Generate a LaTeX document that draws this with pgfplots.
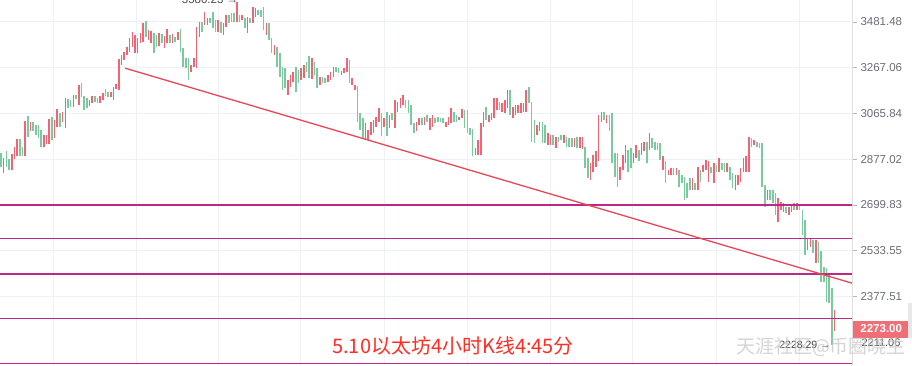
\documentclass[border=0pt]{standalone}
\usepackage{fontspec}
\setmainfont{Liberation Sans}
\newfontfamily\cjk{Noto Sans CJK SC}
\usepackage{pgfplots}
\usepackage{pgfplotstable}
\pgfplotsset{compat=1.18}
\definecolor{upc}{RGB}{238,102,115}
\definecolor{dnc}{RGB}{124,201,160}
\definecolor{trendc}{RGB}{232,72,85}
\definecolor{hlc}{RGB}{190,40,130}
\definecolor{gridc}{RGB}{238,241,248}
\definecolor{lblc}{RGB}{106,109,120}
\definecolor{boxred}{RGB}{240,110,118}
\definecolor{txtred}{RGB}{255,45,35}
\pgfplotstableread{
x lo hi
2 2822 2881
5 2835 2897
6 2877 2925
7 2888 2959
10 2888 3034
12 2990 3030
17 2925 2976
18 2939 2976
19 2939 3041
21 2962 3038
22 3010 3084
24 3031 3070
25 3003 3131
28 3095 3146
30 3102 3188
34 3098 3124
35 3110 3139
38 3112 3141
39 3124 3156
42 3136 3160
43 3124 3182
44 3171 3193
45 3168 3306
46 3280 3325
47 3302 3341
48 3325 3364
49 3341 3404
50 3364 3435
51 3333 3419
52 3333 3404
53 3380 3427
54 3388 3475
56 3396 3443
57 3380 3440
60 3367 3427
62 3357 3414
63 3380 3449
65 3383 3422
67 3396 3433
72 3249 3280
73 3272 3310
74 3265 3459
75 3411 3483
77 3467 3532
78 3467 3499
82 3435 3491
84 3419 3475
85 3459 3515
89 3483 3581
91 3491 3515
93 3427 3507
95 3475 3556
96 3507 3548
100 3419 3475
103 3325 3372
108 3146 3212
109 3182 3234
110 3205 3249
113 3212 3265
114 3220 3280
117 3215 3310
120 3190 3227
123 3205 3234
124 3212 3249
125 3227 3272
128 3234 3254
129 3242 3265
130 3249 3310
132 3190 3220
133 3168 3190
137 2955 3024
138 2955 2996
139 2976 3031
140 2983 3038
141 3010 3052
142 3031 3088
144 3010 3045
146 3003 3060
148 3003 3124
149 3074 3117
150 3088 3131
151 3102 3146
156 2990 3031
157 3017 3045
159 3017 3052
161 2996 3045
162 3010 3060
167 3010 3031
168 3017 3052
169 3024 3088
172 3038 3052
173 3045 3084
178 2894 2921
179 2894 2955
180 2894 3024
181 3010 3074
183 3031 3060
184 3038 3067
185 3045 3131
186 3081 3131
188 3074 3110
189 3067 3124
190 3088 3168
192 3045 3095
193 3060 3102
194 3067 3102
195 3067 3110
196 3074 3110
197 3074 3168
201 2976 3017
202 2990 3031
205 2935 2983
206 2935 2976
208 2921 2969
211 2942 2976
215 2928 2962
217 2921 2969
218 2917 2969
221 2796 2861
222 2828 2894
223 2848 2908
224 2868 3060
225 3031 3074
227 3024 3060
232 2796 2848
233 2835 2894
234 2861 2935
237 2861 2901
238 2881 2935
240 2894 2942
241 2908 2948
243 2914 2983
248 2835 2888
250 2815 2835
251 2815 2841
253 2815 2841
259 2757 2802
261 2757 2848
263 2828 2854
264 2835 2874
265 2789 2868
267 2783 2861
269 2828 2881
272 2828 2861
275 2757 2815
276 2776 2815
277 2789 2841
278 2828 2881
279 2828 2888
280 2828 2966
282 2935 2955
287 2719 2757
291 2638 2725
292 2681 2712
293 2675 2706
295 2663 2694
296 2675 2700
298 2681 2706
302 2536 2578
303 2548 2578
305 2490 2572
312 2265 2334
}\upd
\pgfplotstableread{
x lo hi
1 2848 2901
3 2848 2910
4 2835 2877
8 2890 2959
9 2888 2928
11 2969 3055
13 2990 3030
14 2976 3017
15 2962 3017
16 2925 2996
20 2955 3050
23 3010 3067
26 3088 3127
27 3093 3124
29 3127 3146
31 3136 3197
32 3081 3141
33 3088 3131
36 3117 3139
37 3110 3134
40 3141 3171
41 3136 3160
55 3411 3488
58 3336 3427
59 3364 3419
61 3380 3422
64 3380 3419
66 3388 3411
68 3341 3449
69 3272 3357
70 3265 3310
71 3212 3310
76 3435 3483
79 3475 3499
80 3451 3532
81 3435 3491
83 3427 3483
86 3475 3515
87 3483 3524
88 3483 3524
90 3483 3515
92 3451 3499
94 3478 3499
97 3515 3540
98 3507 3540
99 3443 3556
101 3396 3475
102 3333 3404
104 3272 3364
105 3227 3333
106 3168 3272
107 3175 3265
111 3160 3272
112 3197 3257
115 3249 3295
116 3220 3318
118 3234 3295
119 3175 3265
121 3197 3227
122 3197 3220
126 3249 3272
127 3242 3265
131 3197 3302
134 3031 3185
135 2996 3067
136 2962 3045
143 2972 3067
145 2972 3074
147 3038 3067
152 3088 3124
153 3067 3124
154 3017 3102
155 2983 3024
158 3017 3045
160 3031 3060
163 3024 3045
164 3031 3052
165 3031 3045
166 3024 3045
170 3031 3074
171 3031 3060
174 3003 3081
175 2983 3081
176 2976 3003
177 2888 2999
182 3038 3095
187 3081 3117
191 3060 3168
198 3110 3182
199 2948 3117
200 2942 3038
203 2942 3031
204 2942 3017
207 2935 2976
209 2948 2969
210 2955 2976
212 2928 2969
213 2928 2962
214 2928 2962
216 2921 2969
219 2841 2928
220 2802 2881
226 3038 3074
228 2990 3060
229 2861 3067
230 2808 2901
231 2770 2901
235 2828 2914
236 2841 2921
239 2868 2914
242 2861 2948
244 2921 2962
245 2914 2948
246 2914 2942
247 2874 2942
249 2783 2868
252 2815 2841
254 2770 2835
255 2783 2815
256 2719 2808
257 2725 2783
258 2757 2802
260 2757 2783
262 2789 2835
266 2822 2848
268 2828 2854
270 2835 2861
271 2828 2861
273 2796 2848
274 2763 2822
281 2928 2962
283 2928 2948
284 2921 2942
285 2770 2942
286 2694 2776
288 2719 2757
289 2706 2757
290 2663 2744
294 2669 2694
297 2681 2706
299 2681 2700
300 2590 2681
301 2519 2644
304 2525 2572
306 2490 2566
307 2427 2531
308 2427 2478
309 2361 2473
310 2355 2450
311 2223 2405
}\dnd
\begin{document}
\begin{tikzpicture}[x=1pt,y=1pt]
\useasboundingbox (0,0) rectangle (912,365);
\begin{axis}[
  at={(0,0)}, anchor=south west,
  width=852pt, height=365pt, scale only axis,
  ymode=log,
  xmin=0.627, xmax=318.54,
  ymin=2162, ymax=3589.5,
  clip mode=individual,
  axis line style={draw=none},
  grid=major,
  major grid style={draw=gridc, line width=0.9pt},
  xtick={20.4,51.4,82.3,112.9,143.9,174.9,205.9,236.8,267.8,298.8},
  xticklabels={},
  xtick style={draw=none},
  ytick={2377.51,2533.55,2699.83,2877.02,3065.84,3267.06,3481.48},
  yticklabels={2377.51,2533.55,2699.83,2877.02,3065.84,3267.06,3481.48},
  yminorticks=false,
  ytick pos=right, yticklabel pos=right,
  tick align=outside, major tick length=5pt,
  ytick style={draw=lblc!50, line width=0.8pt},
  yticklabel style={font=\fontsize{11.5}{13}\selectfont, text=lblc, anchor=west, xshift=0pt},
]
\addplot[forget plot, draw=none, mark=none,
  error bars/.cd, y dir=plus, y explicit, error mark=none,
  error bar style={line width=1.6pt, draw=upc}]
  table[x=x, y=lo, y error expr=\thisrow{hi}-\thisrow{lo}] {\upd};
\addplot[forget plot, draw=none, mark=none,
  error bars/.cd, y dir=plus, y explicit, error mark=none,
  error bar style={line width=1.6pt, draw=dnc}]
  table[x=x, y=lo, y error expr=\thisrow{hi}-\thisrow{lo}] {\dnd};
\addplot[hlc, line width=1.2pt] coordinates {(0.627,2699.83) (318.54,2699.83)};
\addplot[hlc, line width=1.2pt] coordinates {(0.627,2578) (318.54,2578)};
\addplot[hlc, line width=1.2pt] coordinates {(0.627,2453) (318.54,2453)};
\addplot[hlc, line width=1.2pt] coordinates {(0.627,2307) (318.54,2307)};
\addplot[hlc, line width=1.2pt] coordinates {(0.627,2166) (318.54,2166)};
\addplot[trendc, line width=1.3pt] coordinates {(47.3,3265) (318.54,2422)};
\node[font=\fontsize{11.5}{13}\selectfont, text=black!70] at (axis cs:79,3589.5) {3580.23 →};
\node[font=\cjk\fontsize{20}{22}\selectfont, text=txtred] at (axis cs:169.7,2220) {5.10以太坊4小时K线4:45分};
\end{axis}
\draw[gray!25, line width=0.8pt] (852,0) -- (852,365);
\node[fill=boxred, text=white, font=\bfseries\fontsize{11.5}{13}\selectfont, inner sep=0pt, minimum width=56pt, minimum height=17pt, anchor=west] at (853,36) {2273.00};
\fill[gray!18] (908,27) rectangle (912,62);
\node[font=\fontsize{11}{13}\selectfont, text=black!70] at (881,22) {2211.06};
\node[font=\fontsize{10.5}{12}\selectfont, text=black!75] at (805,20) {2228.29 →};
\node[font=\cjk\fontsize{19}{21}\selectfont, text=gray!45, opacity=0.75] at (821,18) {天涯社区@币圈晓生};
\end{tikzpicture}
\end{document}
